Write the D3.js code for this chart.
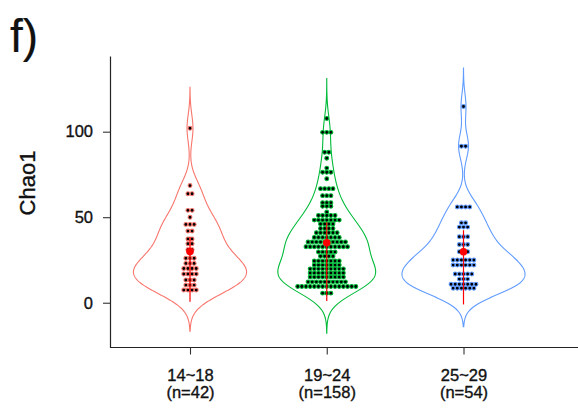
<!DOCTYPE html>
<html>
<head>
<meta charset="utf-8">
<script src="https://cdn.jsdelivr.net/npm/d3@7"></script>
<style>
  body { margin: 0; background: #fff; }
  svg { display: block; }
  text { font-family: "Liberation Sans", Arial, Helvetica, sans-serif; fill: #111; stroke: #111; stroke-width: 0.35px; }
</style>
</head>
<body>
<svg id="chart" width="578" height="410"></svg>
<script>
// groups and sample sizes
const groups = ["14~18", "19~24", "25~29"];
const sizes = [42, 158, 54];
const colors = ["#F8766D", "#00BA38", "#619CFF"];

// dot rows: [Chao1 value, number of dots in the row]
const teenRows = [
  [102, 1], [68.5, 1], [63.7, 2], [54, 2], [50, 1], [45.8, 3], [41.9, 2],
  [37.3, 2], [34.5, 2], [31, 2], [26, 3], [23, 3], [20, 4], [16.8, 4],
  [13.3, 3], [10.3, 3], [7.4, 4]
];
const youngRows = [
  [107.7, 1], [99.6, 3], [88, 2], [84.5, 1], [78.7, 1], [76.3, 3], [72.5, 1],
  [66.7, 4], [62.6, 3], [58.5, 3], [56.4, 3], [53, 1], [51, 5], [48.3, 7],
  [46, 4], [43.4, 4], [40.9, 6], [38.2, 7], [35.5, 10], [32.7, 11], [29.7, 5],
  [27.2, 4], [24.4, 7], [22, 7], [19.8, 9], [17.4, 9], [15, 9], [12.2, 10],
  [9.5, 15], [5.6, 3]
];
const adultRows = [
  [114.7, 1], [91.5, 2], [56, 4], [46.7, 2], [44.2, 3], [38.6, 3], [34, 3],
  [29.8, 3], [25, 6], [22, 6], [16.8, 5], [13.8, 3], [10.8, 7], [8.5, 6]
];
const rowsByGroup = [teenRows, youngRows, adultRows];

// kernel bandwidths of the violins
const bandwidths = [8.0, 7.8, 7.5];

// red summary: mean point and vertical range
const means = [29.9, 35, 29.8];
const rangeLow = [0.6, 1, -1];
const rangeHigh = [38.5, 47, 42.4];

const yTicks = [0, 50, 100];

const svg = d3.select("#chart");
const width = 578;
const axisX = 110;
const axisY = 347.5;

const y = d3.scaleLinear().domain([-26, 144.3]).range([347.2, 55.9]);
const x = d3.scalePoint().domain(groups).range([190, 463.5]);
const step = x.step();
const halfMax = 0.45 * step;
const dotStep = 4.15;

function kde(values, bw, lo, hi) {
  const n = values.length;
  const pts = d3.range(0, 513).map(i => lo + (hi - lo) * i / 512);
  return pts.map(v => {
    let s = 0;
    for (const xi of values) {
      const u = (v - xi) / bw;
      s += Math.exp(-0.5 * u * u);
    }
    return { v: v, d: s / (n * bw * Math.sqrt(2 * Math.PI)) };
  });
}

const densities = rowsByGroup.map((rows, i) => {
  const values = rows.flatMap(r => d3.range(r[1]).map(() => r[0]));
  const bw = bandwidths[i];
  return kde(values, bw, d3.min(values) - 3 * bw, d3.max(values) + 3 * bw);
});
const maxDensity = d3.max(densities, ds => d3.max(ds, d => d.d));
const w = d3.scaleLinear().domain([0, maxDensity]).range([0, halfMax]);

// violins
densities.forEach((ds, i) => {
  const cx = x(groups[i]);
  const area = d3.area()
    .y(d => y(d.v))
    .x0(d => cx - w(d.d))
    .x1(d => cx + w(d.d));
  svg.append("path")
    .attr("d", area(ds))
    .attr("fill", "none")
    .attr("stroke", colors[i])
    .attr("stroke-width", 1.1);
});

// dots
rowsByGroup.forEach((rows, i) => {
  const cx = x(groups[i]);
  const dots = rows.flatMap(r => d3.range(r[1]).map(k => ({ v: r[0], k: k, n: r[1] })));
  svg.append("g").selectAll("circle")
    .data(dots)
    .join("circle")
    .attr("cx", d => cx + (d.k - (d.n - 1) / 2) * dotStep)
    .attr("cy", d => y(d.v))
    .attr("r", 1.95)
    .attr("fill", "#000")
    .attr("stroke", colors[i])
    .attr("stroke-width", 1.05);
});

// mean and range
groups.forEach((g, i) => {
  svg.append("line")
    .attr("x1", x(g)).attr("x2", x(g))
    .attr("y1", y(rangeLow[i])).attr("y2", y(rangeHigh[i]))
    .attr("stroke", "#FF0000")
    .attr("stroke-width", 1.2);
  svg.append("circle")
    .attr("cx", x(g))
    .attr("cy", y(means[i]))
    .attr("r", 3.8)
    .attr("fill", "#FF0000");
});

// y axis
const yAxis = svg.append("g")
  .attr("transform", `translate(${axisX},0)`)
  .call(d3.axisLeft(y).tickValues(yTicks).tickSize(7).tickSizeOuter(0).tickPadding(10));
yAxis.select(".domain").attr("stroke", "#222").attr("stroke-width", 1.2);
yAxis.selectAll(".tick line").attr("stroke", "#333").attr("stroke-width", 1.1);
yAxis.selectAll(".tick text")
  .style("font-family", '"Liberation Sans", Arial, sans-serif')
  .style("font-size", "16.5px")
  .attr("fill", "#111");

// x axis
const xAxis = svg.append("g")
  .attr("transform", `translate(0,${axisY})`)
  .call(d3.axisBottom(x).tickSize(7).tickSizeOuter(0).tickFormat(() => ""));
xAxis.select(".domain")
  .attr("d", `M${axisX},0H${width}`)
  .attr("stroke", "#222").attr("stroke-width", 1.2);
xAxis.selectAll(".tick line").attr("stroke", "#333").attr("stroke-width", 1.1);
xAxis.selectAll(".tick text").remove();
xAxis.selectAll(".tick").each(function(g, i) {
  d3.select(this).append("text")
    .attr("text-anchor", "middle")
    .attr("y", 33.5)
    .style("font-family", '"Liberation Sans", Arial, sans-serif')
    .style("font-size", "16.5px")
    .attr("fill", "#111")
    .text(g);
  d3.select(this).append("text")
    .attr("text-anchor", "middle")
    .attr("y", 50.5)
    .style("font-family", '"Liberation Sans", Arial, sans-serif')
    .style("font-size", "16.5px")
    .attr("fill", "#111")
    .text(`(n=${sizes[i]})`);
});

// y title
svg.append("text")
  .attr("transform", `translate(35,183) rotate(-90)`)
  .attr("text-anchor", "middle")
  .style("font-size", "22px")
  .text("Chao1");

// panel tag
svg.append("text")
  .attr("x", 10)
  .attr("y", 52)
  .style("font-size", "46px")
  .style("stroke-width", "0.2px")
  .text("f)");
</script>
</body>
</html>
